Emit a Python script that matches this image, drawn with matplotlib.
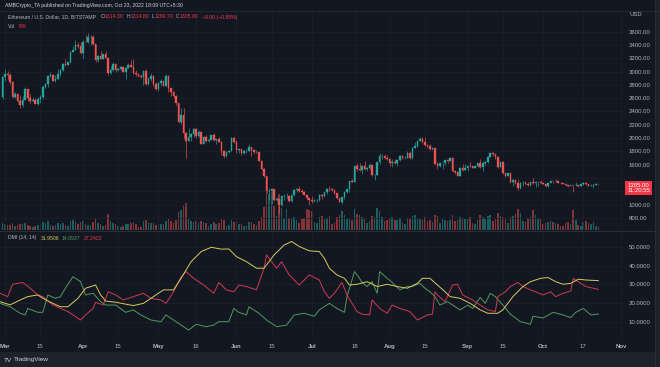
"""
ETH/USD daily (Bitstamp) with volume and DMI(14, 14), TradingView dark style.
Saves out.png at 660x367.
"""

import matplotlib

matplotlib.use("Agg")
import matplotlib.dates as mdates
import matplotlib.pyplot as plt
import numpy as np
import pandas as pd
from matplotlib.text import Annotation

plt.rcParams["font.family"] = ["Liberation Sans", "DejaVu Sans"]

# ---- data ---------------------------------------------------------------
START, END = "2022-02-28", "2022-10-23"
FIRST_OPEN = 2620.0

# Feb 28, then one row per month
CLOSE = [2920,
    2970, 2950, 2835, 2620, 2665, 2555, 2495, 2575, 2730, 2605, 2560, 2575, 2515, 2590, 2620, 2770,
    2815, 2940, 2950, 2860, 2895, 2970, 3030, 3110, 3105, 3145, 3295, 3330, 3400, 3385, 3280,
    3450, 3445, 3520, 3520, 3410, 3170, 3230, 3190, 3260, 3210, 2980, 3030, 3115, 3020, 3040,
    3065, 2995, 3060, 3105, 3075, 2985, 2965, 2935, 2925, 3005, 2810, 2890, 2935, 2815, 2730,
    2825, 2860, 2785, 2940, 2750, 2690, 2635, 2520, 2240, 2340, 2070, 1960, 2010, 2060, 2140, 2025,
    2090, 1915, 2015, 1955, 1975, 2045, 1970, 1980, 1945, 1800, 1725, 1790, 1810, 1995, 1940,
    1815, 1835, 1775, 1800, 1805, 1860, 1815, 1790, 1790, 1660, 1530, 1435, 1210, 1210, 1235,
    1065, 1085, 995, 1125, 1125, 1125, 1050, 1140, 1225, 1240, 1200, 1190, 1140, 1100, 1070,
    1060, 1065, 1075, 1150, 1135, 1185, 1240, 1235, 1215, 1170, 1100, 1040, 1110, 1190, 1230, 1355,
    1340, 1580, 1540, 1520, 1575, 1535, 1550, 1595, 1440, 1450, 1640, 1725, 1735, 1695, 1680,
    1630, 1635, 1620, 1665, 1735, 1695, 1700, 1775, 1700, 1850, 1880, 1955, 1980, 1935, 1900, 1875,
    1835, 1850, 1615, 1575, 1620, 1625, 1665, 1660, 1700, 1505, 1490, 1425, 1555, 1525, 1555,
    1585, 1575, 1555, 1575, 1620, 1560, 1630, 1635, 1715, 1775, 1760, 1715, 1570, 1635, 1470,
    1435, 1470, 1335, 1375, 1325, 1250, 1330, 1330, 1315, 1295, 1335, 1330, 1335, 1335, 1330,
    1310, 1275, 1325, 1360, 1350, 1350, 1330, 1320, 1315, 1290, 1280, 1295, 1290, 1295, 1275,
    1305, 1330, 1310, 1285, 1285, 1300, 1314.3, 1305]

HIGH = [2940,
    3040, 3010, 2980, 2850, 2690, 2670, 2645, 2630, 2770, 2730, 2660, 2610, 2600, 2610, 2650, 2790,
    2830, 2950, 2990, 2960, 2945, 3040, 3040, 3130, 3190, 3150, 3300, 3380, 3480, 3440, 3445,
    3470, 3550, 3580, 3545, 3555, 3410, 3250, 3310, 3270, 3305, 3210, 3090, 3140, 3130, 3055,
    3080, 3080, 3060, 3125, 3170, 3190, 3025, 2980, 2960, 3020, 3035, 2915, 2980, 2950, 2845,
    2840, 2885, 2870, 2960, 2955, 2755, 2700, 2640, 2530, 2450, 2445, 2085, 2150, 2070, 2150, 2145,
    2115, 2100, 2035, 2045, 1995, 2050, 2075, 1990, 2015, 1960, 1815, 1800, 1820, 2010, 2010,
    1970, 1840, 1840, 1815, 1830, 1915, 1865, 1830, 1815, 1795, 1675, 1545, 1435, 1250, 1245,
    1240, 1120, 1090, 1145, 1160, 1175, 1130, 1145, 1230, 1250, 1280, 1235, 1210, 1145, 1105,
    1125, 1080, 1085, 1155, 1165, 1190, 1245, 1275, 1245, 1220, 1170, 1105, 1115, 1205, 1240, 1355,
    1390, 1590, 1620, 1625, 1580, 1650, 1570, 1630, 1600, 1460, 1640, 1780, 1765, 1755, 1745,
    1695, 1685, 1680, 1665, 1740, 1750, 1725, 1810, 1790, 1860, 1945, 1960, 2020, 2015, 2010, 1905,
    1915, 1870, 1850, 1640, 1630, 1630, 1670, 1690, 1715, 1710, 1510, 1510, 1560, 1605, 1610,
    1595, 1645, 1580, 1580, 1625, 1680, 1640, 1650, 1730, 1780, 1785, 1765, 1735, 1650, 1650,
    1475, 1480, 1470, 1385, 1380, 1385, 1335, 1360, 1355, 1335, 1340, 1405, 1350, 1345, 1375,
    1340, 1320, 1330, 1365, 1360, 1380, 1360, 1335, 1330, 1330, 1295, 1300, 1300, 1340, 1300,
    1310, 1335, 1340, 1315, 1310, 1305, 1320, 1314.8]

LOW = [2590,
    2860, 2880, 2805, 2600, 2600, 2540, 2450, 2470, 2570, 2550, 2525, 2550, 2505, 2500, 2520, 2590,
    2755, 2760, 2925, 2850, 2840, 2890, 2930, 3010, 3080, 3095, 3125, 3290, 3330, 3355, 3270,
    3210, 3440, 3425, 3405, 3405, 3150, 3150, 3185, 3185, 3200, 2955, 2960, 3010, 3000, 3010,
    3030, 2990, 2890, 3050, 3070, 2960, 2930, 2925, 2905, 2800, 2790, 2790, 2850, 2780, 2720,
    2710, 2780, 2775, 2780, 2685, 2635, 2595, 2490, 2230, 2205, 2000, 1700, 1955, 1950, 2010, 1995,
    2020, 1905, 1910, 1935, 1945, 1965, 1960, 1915, 1935, 1750, 1705, 1720, 1770, 1805, 1920,
    1780, 1780, 1745, 1755, 1775, 1800, 1730, 1765, 1775, 1650, 1520, 1420, 1170, 1075, 1015,
    1060, 1055, 880, 980, 1070, 1105, 1040, 1045, 1130, 1190, 1195, 1180, 1140, 1075, 1000,
    1030, 1045, 1040, 1060, 1085, 1120, 1165, 1200, 1205, 1160, 1090, 1035, 1005, 1080, 1180, 1190,
    1335, 1335, 1500, 1500, 1460, 1520, 1500, 1540, 1430, 1370, 1440, 1610, 1690, 1690, 1675,
    1585, 1570, 1605, 1580, 1655, 1690, 1680, 1695, 1680, 1680, 1850, 1865, 1955, 1925, 1880, 1855,
    1825, 1825, 1610, 1530, 1565, 1530, 1590, 1630, 1650, 1490, 1465, 1425, 1425, 1500, 1520,
    1510, 1560, 1545, 1545, 1560, 1550, 1500, 1600, 1630, 1710, 1730, 1690, 1555, 1560, 1460,
    1420, 1430, 1330, 1280, 1310, 1220, 1230, 1275, 1305, 1285, 1275, 1310, 1265, 1285, 1310,
    1305, 1265, 1270, 1320, 1320, 1345, 1320, 1310, 1315, 1285, 1270, 1275, 1190, 1280, 1270,
    1275, 1300, 1290, 1280, 1275, 1255, 1295, 1289.7]

# thousand ETH
VOLUME = [14,
    12, 10, 10, 14, 8, 10, 12, 12, 14, 10, 8, 6, 8, 10, 12, 16,
    14, 18, 10, 8, 10, 14, 12, 14, 10, 8, 18, 20, 16, 12, 16,
    18, 12, 10, 10, 16, 24, 14, 12, 8, 10, 32, 18, 14, 12, 8,
    6, 8, 12, 12, 14, 16, 12, 6, 6, 18, 20, 14, 14, 14, 10,
    12, 12, 12, 18, 22, 18, 14, 20, 36, 40, 50, 54, 24, 18, 16, 18,
    14, 18, 16, 14, 8, 12, 16, 12, 14, 22, 20, 8, 10, 20, 16,
    18, 12, 12, 8, 8, 16, 16, 12, 10, 18, 26, 46, 80, 72, 76,
    48, 28, 72, 44, 24, 42, 24, 24, 26, 20, 14, 22, 24, 42, 40,
    38, 16, 14, 26, 28, 22, 24, 28, 12, 14, 26, 30, 38, 30, 22, 24,
    20, 42, 32, 30, 26, 24, 14, 18, 28, 26, 44, 38, 26, 18, 20,
    24, 26, 20, 20, 24, 14, 12, 24, 22, 28, 30, 24, 22, 20, 26, 18,
    20, 16, 30, 28, 14, 22, 20, 18, 20, 30, 18, 20, 26, 24, 22,
    22, 26, 14, 12, 20, 30, 26, 22, 28, 30, 18, 22, 34, 28, 26,
    24, 14, 26, 28, 32, 42, 34, 18, 16, 24, 26, 40, 30, 24, 22,
    12, 14, 16, 18, 16, 14, 12, 8, 8, 14, 16, 12, 40, 20, 10,
    8, 16, 18, 14, 12, 16, 8, 6]

# DMI readings, day = days after 2022-03-01
ADX_DAY = [-2, 2, 6, 9, 13, 15, 18, 22, 25, 29, 32, 36, 38, 40, 44, 51, 55, 59, 63, 67,
           70, 74, 78, 82, 86, 89, 92, 96, 100, 103, 107, 111, 114, 117, 121, 125, 127, 129,
           132, 135, 137, 140, 144, 148, 152, 156, 160, 164, 166, 169, 172, 175, 177, 181,
           185, 189, 192, 196, 198, 202, 206, 209, 213, 216, 219, 222, 225, 228, 231, 236]
ADX = [20.7, 19, 21.6, 23.4, 24.3, 22.5, 20.4, 18, 18, 22.5, 27.9, 29.6, 24.3, 21, 20.4,
       18.6, 19.8, 23.4, 27, 27, 33.2, 42.1, 47.5, 49.8, 48.8, 48.9, 44.8, 42.1, 38.6, 38.6,
       45.7, 51, 52.9, 50.2, 47.9, 47.5, 43.9, 38.6,
       35, 33.2, 29.6, 30, 31.4, 28.8, 30, 28.8, 27.9, 30.5, 33.2, 33.2, 29.6, 26, 23.4,
       22.5, 19.8, 16.3, 14.5, 14.5, 16.3, 23.4, 28.8, 31.4, 33.2, 33.6, 31.4, 30, 30.5,
       32.7, 32.3, 31.9506]

PDI_DAY = [-2, 2, 6, 8, 9, 13, 15, 17, 20, 22, 24, 27, 30, 32, 35, 38, 40, 44, 48, 51,
           54, 58, 62, 64, 67, 70, 73, 76, 80, 83, 85, 89, 91, 93, 96, 97, 101, 104, 108,
           112, 115, 119, 123, 125, 129,
           132, 135, 136, 139, 141, 142, 144, 146, 148, 149, 152, 154, 157, 160, 162, 165,
           167, 169, 171, 173, 176, 178, 181, 184, 186, 189, 191, 193, 195, 198, 201, 205,
           209, 210, 214, 218, 222, 225, 227, 230, 233, 236]
PDI = [19.8, 18, 14.5, 13.6, 17.1, 15, 15, 24.3, 22.5, 23.4, 27.9, 34.1, 31.4, 24.3,
       25.2, 20.7, 18.9, 18.9, 15, 16.3, 13.6, 10.9, 10, 13.6, 10.9, 8.2, 5.5, 8.6, 7.3,
       8.2, 10, 10, 17.1, 15, 13.6, 18, 14.5, 10.9, 7.3, 8.2, 13.6, 14.5, 12.9, 16.3, 19.8,
       17.1, 15, 23.4, 36.8, 33.2, 31, 28.8, 31.4, 25.2, 36.8, 33.2, 31, 27, 28.8, 28.8,
       30.5, 27.9, 26, 23.4, 18.9, 20.7, 18.9, 16.3, 18.9, 17.1, 23, 19.8, 25.2, 23.4,
       18.9, 14, 10, 8.6, 12.9, 12, 15, 13.6, 12.2, 15, 17.1, 13.6, 14.0937]

MDI_DAY = [-2, 1, 3, 7, 10, 13, 15, 19, 25, 30, 32, 35, 36, 39, 41, 44, 47, 51, 55, 58,
           62, 64, 67, 70, 72, 75, 79, 83, 85, 88, 91, 93, 96, 100, 103, 104, 106, 108, 110,
           113, 117, 121, 125, 127, 129,
           131, 134, 136, 140, 142, 145, 146, 149, 152, 154, 157, 161, 164, 168, 170, 171,
           172, 175, 178, 180, 182, 186, 189, 192, 195, 196, 199, 201, 204, 206, 209, 211,
           214, 217, 219, 222, 225, 226, 229, 231, 234, 236]
MDI = [25.2, 23.4, 30, 31, 27.9, 24.3, 23.4, 18.9, 15.4, 10.9, 13.6, 17.1, 20.4, 18.9,
       26, 24.3, 21.6, 23.4, 25.2, 22.5, 21.6, 19.8, 26, 33.9, 36.8, 33.2, 29.6, 25.2, 31,
       27, 26, 29.6, 28.8, 27, 38.6, 45.7, 42.1, 38.6, 42.1, 35, 29.6, 35, 32.3, 26, 22.5,
       25.2, 31, 24.3, 15.4, 14, 13.6, 21.6, 17.1, 14.5, 18.9, 17.1, 15.4, 10.9, 13.6, 14,
       26, 24.3, 20.7, 29.6, 30, 24.3, 21.6, 18.9, 16.3, 15.4, 23.4, 26, 28.8, 31, 28.8,
       27, 26, 24.3, 26, 23.4, 25.2, 26.4, 33.2, 30.5, 28.8, 27.9, 27.2422]

PRICE_TICKS = list(range(800, 3601, 200))
DMI_TICKS = [10, 20, 30, 40, 50]
TIME_TICKS = ["2022-03-01", "2022-03-15", "2022-04-01", "2022-04-15", "2022-05-01",
              "2022-05-16", "2022-06-01", "2022-06-15", "2022-07-01", "2022-07-18",
              "2022-08-01", "2022-08-15", "2022-09-01", "2022-09-15", "2022-10-01",
              "2022-10-17", "2022-11-01"]
TIME_LABELS = ["Mar", "15", "Apr", "15", "May", "16", "Jun", "15", "Jul", "18",
               "Aug", "15", "Sep", "15", "Oct", "17", "Nov"]

# ---- style --------------------------------------------------------------
BG = "#131722"
GRID = "#1c202c"
TXT = "#b2b5be"
UP, DOWN = "#26a69a", "#ef5350"
LABEL_RED = "#f23645"
C_ADX, C_PDI, C_MDI = "#d8cb5c", "#4e9a5c", "#cf3a52"
FS = 4.3        # scale labels
FS_LEG = 3.7    # legend / header lines
W, H = 660, 367


def rect(x0, y0, x1, y1):
    """pixel box measured from the top-left -> figure fraction"""
    return [x0 / W, 1 - y1 / H, (x1 - x0) / W, (y1 - y0) / H]


fig = plt.figure(figsize=(W / 100, H / 100), dpi=100)
fig.patch.set_facecolor(BG)

ax = fig.add_axes(rect(0, 11, 624, 230))
dmi = fig.add_axes(rect(0, 231, 624, 340), sharex=ax)
dmi.set_facecolor(BG)
vol = ax.twinx()
vol.set_zorder(ax.get_zorder() - 1)
ax.patch.set_visible(False)
vol.set_facecolor(BG)

dates = pd.date_range(START, END, freq="D")
x = mdates.date2num(dates)
close = np.array(CLOSE, dtype=float)
opens = np.r_[FIRST_OPEN, close[:-1]]
colors = np.where(close >= opens, UP, DOWN)

# candles
ax.vlines(x, LOW, HIGH, colors=colors, lw=0.45, zorder=2)
ax.bar(x, np.abs(close - opens), bottom=np.minimum(opens, close), width=0.62,
       color=colors, edgecolor=colors, linewidth=0.25, zorder=3)

# volume
vol.bar(x, VOLUME, width=0.62, color=colors, alpha=0.5, linewidth=0)
vol.set_ylim(0, 438)
vol.set_yticks([])

# DMI
base = mdates.date2num(pd.Timestamp("2022-03-01"))
dmi.plot(base + np.array(PDI_DAY), PDI, color=C_PDI, lw=0.7)
dmi.plot(base + np.array(MDI_DAY), MDI, color=C_MDI, lw=0.7)
dmi.plot(base + np.array(ADX_DAY), ADX, color=C_ADX, lw=0.7)

# axes
ax.set_xlim(base - 2.03, base + 246.2)
ax.set_ylim(617, 3910)
dmi.set_ylim(0.2, 58.5)

for a in (ax, vol, dmi):
    for s in a.spines.values():
        s.set_visible(False)

ax.yaxis.tick_right()
ax.set_yticks(PRICE_TICKS)
# the last-price marker hides the scale label next to it
ax.set_yticklabels(["" if abs(p - close[-1]) < 150 else f"{p:.2f}" for p in PRICE_TICKS])
dmi.yaxis.tick_right()
dmi.set_yticks(DMI_TICKS)
dmi.set_yticklabels([f"{v:.4f}" for v in DMI_TICKS])
dmi.set_xticks(mdates.date2num(pd.to_datetime(TIME_TICKS)))
dmi.set_xticklabels(TIME_LABELS)
for lab in dmi.get_xticklabels():
    if not lab.get_text().isdigit():
        lab.set_fontweight("bold")
for a in (ax, dmi):
    a.tick_params(axis="both", length=0, labelsize=FS, colors=TXT, pad=3.6)
    a.grid(color=GRID, lw=0.5)
    a.set_axisbelow(True)
ax.tick_params(labelbottom=False)
dmi.tick_params(axis="x", pad=3.0)

# last price marker
ax.annotate(f"{close[-1]:.2f}\n11:20:55", xy=(1.0, close[-1]), xycoords=ax.get_yaxis_transform(),
            xytext=(2.2, -2.5), textcoords="offset points", ha="left", va="center",
            fontsize=FS, color="white", linespacing=1.0, annotation_clip=False, zorder=10,
            bbox=dict(boxstyle="square,pad=0.35", fc=LABEL_RED, ec="none"))

# frame pieces
fig.add_artist(plt.Line2D([0, 655 / W], [1 - 230.5 / H] * 2, color="#2a2e39", lw=0.8))
fig.add_artist(plt.Line2D([0, 1], [1 - 11 / H] * 2, color="#2a2e39", lw=0.5))
fig.add_artist(plt.Rectangle((0, 0), 1, 15 / H, color="#1e222d", lw=0))
fig.add_artist(plt.Rectangle((655 / W, 0), 5 / W, 1, color="#1e222d", lw=0))
fig.add_artist(plt.Line2D([655 / W] * 2, [0, 1], color="#2a2e39", lw=0.6))


def text_run(x_px, y_px, parts, size=FS_LEG):
    prev = None
    for s, color, gap in parts:
        if prev is None:
            prev = fig.text(x_px / W, 1 - y_px / H, s, color=color, fontsize=size,
                            ha="left", va="center", zorder=6)
        else:
            prev = fig.add_artist(Annotation(
                s, xy=(1, 0.5), xycoords=prev, xytext=(gap * 0.72, 0),
                textcoords="offset points", ha="left", va="center",
                color=color, fontsize=size, annotation_clip=False, zorder=6))


text_run(5, 6, [("AMBCrypto_TA published on TradingView.com, Oct 23, 2022 18:09 UTC+5:30",
                 "#d1d4dc", 0)])
text_run(8, 17, [("Ethereum / U.S. Dollar, 1D, BITSTAMP", TXT, 0),
                 ("O", TXT, 5), (f"{opens[-1]:.2f}", LABEL_RED, 0),
                 ("H", TXT, 3), (f"{HIGH[-1]:.2f}", LABEL_RED, 0),
                 ("L", TXT, 3), (f"{LOW[-1]:.2f}", LABEL_RED, 0),
                 ("C", TXT, 3), (f"{close[-1]:.2f}", LABEL_RED, 0),
                 ("\u22129.90 (\u22120.88%)", LABEL_RED, 4)])
text_run(8, 27, [("Vol", TXT, 0), ("799", LABEL_RED, 3)])
text_run(8, 238, [("DMI (14, 14)", TXT, 0), (f"{ADX[-1]:.4f}", C_ADX, 4),
                  (f"{PDI[-1]:.4f}", C_PDI, 3), (f"{MDI[-1]:.4f}", LABEL_RED, 3)])
text_run(629, 15, [("USD", TXT, 0)], size=FS)
text_run(4, 360, [("TV", "#d1d4dc", 0), ("TradingView", "#d1d4dc", 2)], size=4.6)

fig.savefig("out.png", dpi=100, facecolor=BG)
